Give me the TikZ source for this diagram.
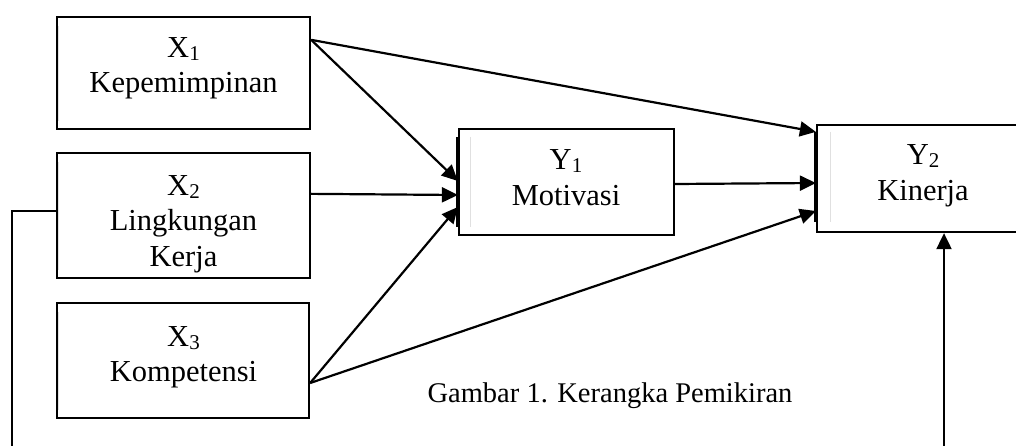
\documentclass[tikz,border=0pt]{standalone}
\usepackage{fontspec}
\setmainfont{Liberation Serif}
\usetikzlibrary{arrows.meta}
\newcommand\sub[1]{\raisebox{-3pt}{\fontsize{21}{21}\selectfont #1}}
\begin{document}
\begin{tikzpicture}[x=1pt,y=-1pt,
  box/.style={draw, line width=2.3pt, rectangle, inner sep=0pt},
  lbl/.style={anchor=base, inner sep=0pt, font=\fontsize{30.5}{35.5}\selectfont},
  arr/.style={line width=2.2pt, -{Triangle[length=16pt,width=15pt]}},
  link/.style={line width=2pt},
  ghost/.style={line width=1.2pt, black!12},
  thickedge/.style={line width=3.8pt}]
\clip (0,0) rectangle (1016,446);
\fill[white] (0,0) rectangle (1016,446);
% boxes
\node[box, minimum width=253pt, minimum height=112pt] (x1) at (183.5,73) {};
\node[box, minimum width=253pt, minimum height=125pt] (x2) at (183.5,215.5) {};
\node[box, minimum width=252pt, minimum height=115pt] (x3) at (183,360.5) {};
\node[box, minimum width=215pt, minimum height=106pt] (y1) at (566.5,182) {};
\node[box, minimum width=212pt, minimum height=107pt] (y2) at (923,178.5) {};
% labels
\node[lbl] (x1a) at (183.5,58) {X\sub{1}};
\node[lbl] (x1b) at (183.5,93) {Kepemimpinan};
\node[lbl] (x2a) at (183.5,196) {X\sub{2}};
\node[lbl] (x2b) at (183.5,231) {Lingkungan};
\node[lbl] (x2c) at (183.5,266) {Kerja};
\node[lbl] (x3a) at (183.5,346) {X\sub{3}};
\node[lbl] (x3b) at (183.5,381) {Kompetensi};
\node[lbl] (y1a) at (566,170) {Y\sub{1}};
\node[lbl] (y1b) at (566,206) {Motivasi};
\node[lbl] (y2a) at (923,165) {Y\sub{2}};
\node[lbl] (y2b) at (923,201) {Kinerja};
% faint inner edges
\draw[ghost] ([xshift=3pt,yshift=-10pt]x1.north west) -- ([xshift=3pt,yshift=9pt]x1.south west);
\draw[ghost] ([xshift=3pt,yshift=-10pt]x2.north west) -- ([xshift=3pt,yshift=9pt]x2.south west);
\draw[ghost] ([xshift=3pt,yshift=-10pt]x3.north west) -- ([xshift=3pt,yshift=9pt]x3.south west);
\draw[ghost] ([xshift=13pt,yshift=-9pt]y1.north west) -- ([xshift=13pt,yshift=9pt]y1.south west);
\draw[ghost] ([xshift=15pt,yshift=-8pt]y2.north west) -- ([xshift=15pt,yshift=11pt]y2.south west);
\draw[thickedge] ([yshift=-9pt]y1.north west) -- ([yshift=9pt]y1.south west);
\draw[thickedge] ([yshift=-8pt]y2.north west) -- ([yshift=11pt]y2.south west);
% arrows
\draw[arr] ([yshift=-24pt]x1.north east) -- ([yshift=-8pt]y2.north west);
\draw[arr] ([yshift=-24pt]x1.north east) -- ([yshift=1pt]y1.west);
\draw[arr] ([yshift=-42pt]x2.north east) -- ([yshift=-13pt]y1.west);
\draw[arr] ([yshift=-22.5pt]x3.east) -- ([yshift=-25pt]y1.west);
\draw[arr] ([yshift=-22.5pt]x3.east) -- ([yshift=-32.5pt]y2.west);
\draw[arr] ([yshift=-2pt]y1.east) -- ([yshift=-4.5pt]y2.west);
% feedback lines
\coordinate (fb1) at (12,460);
\coordinate (fb2) at (944,460);
\draw[link] ([yshift=4.5pt]x2.west) -| (fb1);
\draw[arr, line width=2pt] (fb2) -- (fb2 |- y2.south);
% caption
\node[anchor=base, inner sep=0pt, font=\fontsize{28.5}{32}\selectfont] (cap) at (610,402) {Gambar 1. Kerangka Pemikiran};
\end{tikzpicture}
\end{document}
